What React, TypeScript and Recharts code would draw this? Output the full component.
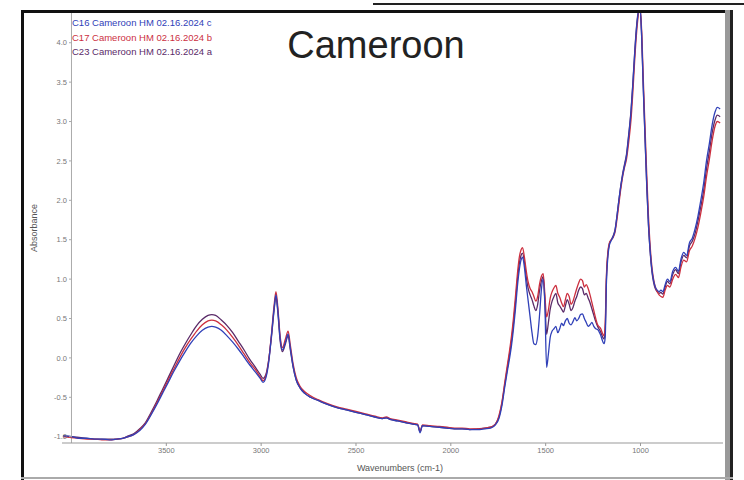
import React from 'react';
import { LineChart, Line, XAxis, YAxis, ReferenceLine } from 'recharts';

const title = 'Cameroon';
const legendLabels = [
  'C16 Cameroon HM 02.16.2024 c',
  'C17 Cameroon HM 02.16.2024 b',
  'C23 Cameroon HM 02.16.2024 a',
];
const seriesColors = ['#3040b8', '#cc2f3f', '#5a2a68'];
const xTicks = [3500, 3000, 2500, 2000, 1500, 1000];
const yTicks = [-1.0, -0.5, 0.0, 0.5, 1.0, 1.5, 2.0, 2.5, 3.0, 3.5, 4.0];
const xLabel = 'Wavenumbers (cm-1)';
const yLabel = 'Absorbance';

const wavenumbers = [
  4045, 4000, 3960, 3920, 3880, 3840, 3800, 3760, 3730, 3700, 3670, 3640, 3610, 3580, 3550, 3520,
  3490, 3460, 3430, 3400, 3370, 3340, 3310, 3280, 3260, 3240, 3210, 3180, 3150, 3120, 3090, 3060,
  3030, 3005, 2990, 2975, 2960, 2945, 2932, 2922, 2912, 2900, 2888, 2872, 2858, 2846, 2832, 2815,
  2795, 2770, 2740, 2700, 2650, 2600, 2550, 2500, 2450, 2400, 2360, 2340, 2320, 2280, 2240, 2200,
  2175, 2162, 2150, 2110, 2060, 2020, 1980, 1940, 1900, 1860, 1820, 1790, 1765, 1745, 1730, 1715,
  1700, 1690, 1680, 1670, 1660, 1650, 1640, 1630, 1622, 1612, 1602, 1592, 1582, 1572, 1562, 1552,
  1542, 1532, 1522, 1513, 1504, 1495, 1486, 1476, 1466, 1456, 1446, 1436, 1426, 1416, 1406, 1396,
  1386, 1376, 1366, 1356, 1346, 1336, 1326, 1316, 1306, 1296, 1286, 1276, 1266, 1256, 1246, 1236,
  1226, 1212, 1192, 1186, 1180, 1172, 1164, 1154, 1144, 1134, 1124, 1114, 1104, 1094, 1084, 1074,
  1062, 1050, 1040, 1030, 1018, 1003, 994, 985, 976, 967, 958, 949, 940, 931, 922, 912,
  902, 892, 882, 870, 858, 845, 830, 815, 800, 786, 772, 757, 742, 727, 712, 697,
  682, 667, 652, 637, 622, 607, 595, 580,
];

const c16 = [
  -0.99, -1.0, -1.02, -1.02, -1.03, -1.03, -1.04, -1.03, -1.02, -1.0, -0.97, -0.92, -0.84, -0.72, -0.59, -0.45,
  -0.31, -0.17, -0.04, 0.08, 0.19, 0.28, 0.35, 0.39, 0.4, 0.39, 0.35, 0.28, 0.2, 0.11, 0.01, -0.09,
  -0.18, -0.26, -0.31, -0.25, -0.05, 0.3, 0.62, 0.8, 0.6, 0.25, 0.1, 0.2, 0.3, 0.12, -0.1, -0.28,
  -0.38, -0.45, -0.5, -0.54, -0.59, -0.63, -0.66, -0.69, -0.72, -0.75, -0.77, -0.76, -0.78, -0.8, -0.82, -0.84,
  -0.85, -0.95, -0.86, -0.87, -0.88, -0.89, -0.9, -0.9, -0.91, -0.91, -0.9, -0.89, -0.85, -0.76, -0.6, -0.36,
  -0.14, 0.0, 0.16, 0.36, 0.6, 0.88, 1.1, 1.24, 1.28, 1.15, 0.92, 0.72, 0.52, 0.32, 0.18, 0.17,
  0.28, 0.55, 0.88, 1.0, 0.66, -0.12, 0.04, 0.26, 0.34, 0.37, 0.4, 0.32, 0.37, 0.44, 0.41, 0.47,
  0.5, 0.44, 0.42, 0.46, 0.51, 0.47, 0.5, 0.55, 0.56, 0.5, 0.45, 0.4, 0.42, 0.45, 0.4, 0.37,
  0.36, 0.3, 0.18, 0.26, 0.92, 1.28, 1.43, 1.49, 1.54, 1.62, 1.8, 2.0, 2.18, 2.32, 2.44, 2.56,
  2.82, 3.12, 3.48, 3.88, 4.26, 4.46, 4.1, 3.42, 2.8, 2.2, 1.7, 1.36, 1.12, 0.98, 0.9, 0.86,
  0.84, 0.86, 0.84, 0.93, 1.0, 0.97, 1.1, 1.15, 1.1, 1.26, 1.34, 1.3, 1.46, 1.52, 1.64, 1.8,
  2.0, 2.22, 2.5, 2.72, 2.96, 3.12, 3.18, 3.16,
];

const c17 = [
  -1.0, -1.01, -1.02, -1.03, -1.03, -1.04, -1.04, -1.03, -1.02, -1.0, -0.97, -0.91, -0.83, -0.71, -0.57, -0.43,
  -0.28, -0.14, 0.0, 0.13, 0.24, 0.34, 0.42, 0.47, 0.48, 0.47, 0.42, 0.35, 0.26, 0.16, 0.05, -0.06,
  -0.15, -0.24, -0.29, -0.23, -0.03, 0.32, 0.66, 0.84, 0.64, 0.28, 0.13, 0.24, 0.34, 0.16, -0.07, -0.25,
  -0.36, -0.43, -0.48, -0.53, -0.58, -0.62, -0.65, -0.68, -0.71, -0.74, -0.76, -0.75, -0.77, -0.79, -0.81, -0.83,
  -0.84, -0.93, -0.85, -0.86, -0.87, -0.88, -0.89, -0.89, -0.9, -0.9, -0.89, -0.88, -0.84, -0.72, -0.55, -0.3,
  -0.06, 0.1, 0.28, 0.5, 0.76, 1.04, 1.26, 1.37, 1.4, 1.28, 1.1, 0.96, 0.88, 0.84, 0.78, 0.72,
  0.78, 0.94, 1.04, 1.07, 0.8, 0.52, 0.6, 0.76, 0.84, 0.89, 0.92, 0.82, 0.77, 0.7, 0.65, 0.74,
  0.82, 0.78, 0.68, 0.72, 0.8, 0.88, 0.95, 1.0, 0.98, 0.9, 0.93, 0.88, 0.8, 0.7, 0.6, 0.5,
  0.42, 0.38, 0.28, 0.44, 1.02, 1.34, 1.46, 1.5, 1.53, 1.6, 1.76, 1.95, 2.14, 2.3, 2.42, 2.52,
  2.74, 3.02, 3.38, 3.8, 4.2, 4.44, 4.16, 3.52, 2.92, 2.32, 1.8, 1.42, 1.16, 1.0, 0.9, 0.84,
  0.8, 0.78, 0.77, 0.86, 0.92, 0.9, 1.0, 1.06, 1.02, 1.16, 1.24, 1.22, 1.36, 1.42, 1.52, 1.66,
  1.84, 2.04, 2.3, 2.52, 2.76, 2.94, 3.0, 2.98,
];

const c23 = [
  -0.99, -1.0, -1.01, -1.02, -1.03, -1.03, -1.03, -1.03, -1.02, -0.99, -0.96, -0.9, -0.82, -0.69, -0.55, -0.4,
  -0.25, -0.1, 0.05, 0.18, 0.3, 0.41, 0.49, 0.54, 0.55, 0.54, 0.48, 0.41, 0.32, 0.21, 0.1, -0.02,
  -0.12, -0.21, -0.26, -0.21, -0.02, 0.28, 0.6, 0.78, 0.58, 0.22, 0.08, 0.18, 0.28, 0.1, -0.11, -0.28,
  -0.38, -0.45, -0.5, -0.54, -0.59, -0.63, -0.66, -0.69, -0.72, -0.75, -0.77, -0.76, -0.78, -0.8, -0.82, -0.84,
  -0.85, -0.94, -0.86, -0.87, -0.88, -0.89, -0.9, -0.9, -0.91, -0.9, -0.89, -0.88, -0.84, -0.74, -0.57, -0.33,
  -0.1, 0.05, 0.22, 0.43, 0.68, 0.96, 1.18, 1.3, 1.33, 1.22, 1.02, 0.88, 0.8, 0.74, 0.66, 0.6,
  0.68, 0.86, 0.98, 1.03, 0.72, 0.3, 0.44, 0.62, 0.72, 0.78, 0.82, 0.7, 0.66, 0.62, 0.58, 0.66,
  0.74, 0.68, 0.6, 0.64, 0.72, 0.78, 0.86, 0.9, 0.88, 0.8, 0.82, 0.76, 0.7, 0.62, 0.54, 0.46,
  0.4, 0.34, 0.24, 0.36, 0.98, 1.32, 1.45, 1.5, 1.55, 1.63, 1.8, 2.0, 2.18, 2.34, 2.46, 2.58,
  2.84, 3.14, 3.5, 3.9, 4.28, 4.46, 4.08, 3.4, 2.78, 2.18, 1.68, 1.34, 1.1, 0.96, 0.88, 0.84,
  0.82, 0.83, 0.81, 0.9, 0.97, 0.94, 1.06, 1.12, 1.07, 1.22, 1.3, 1.27, 1.42, 1.48, 1.58, 1.74,
  1.92, 2.12, 2.4, 2.62, 2.86, 3.02, 3.08, 3.06,
];

const data = wavenumbers.map((w, i) => ({ w, c16: c16[i], c17: c17[i], c23: c23[i] }));

const FONT = '"Liberation Sans", Arial, sans-serif';

const renderYTick = (props: any) => {
  const { y, payload } = props;
  return (
    <g key={`yt-${payload.value}`}>
      <line x1={69} x2={72} y1={y} y2={y} stroke="#aaa" strokeWidth={1} />
      <text x={67} y={y} dy={2.6} textAnchor="end" fontSize={7.5} fill="#777" fontFamily={FONT}>
        {Number(payload.value).toFixed(1)}
      </text>
    </g>
  );
};

export default function App() {
  return (
    <div style={{ position: 'fixed', left: 0, top: 0, width: 744, height: 480, background: '#fff' }}>
      <LineChart
        width={744}
        height={480}
        data={data}
        margin={{ top: 12, right: 21, bottom: 17, left: 52 }}
      >
        <XAxis
          dataKey="w"
          type="number"
          domain={[565, 4050]}
          reversed
          allowDataOverflow
          ticks={xTicks}
          interval={0}
          height={20}
          axisLine={{ stroke: '#999' }}
          tickLine={{ stroke: '#999' }}
          tickSize={3}
          tick={{ fontSize: 7.5, fill: '#777', fontFamily: FONT }}
        />
        <YAxis
          type="number"
          domain={[-1.08, 4.39]}
          allowDataOverflow
          ticks={yTicks}
          interval={0}
          width={10}
          axisLine={false}
          tickLine={false}
          tick={renderYTick}
        />
        <ReferenceLine x={4000} stroke="#aaa" strokeWidth={1} />
        <Line dataKey="c23" type="monotone" stroke={seriesColors[2]} strokeWidth={1.3} dot={false} isAnimationActive={false} />
        <Line dataKey="c17" type="monotone" stroke={seriesColors[1]} strokeWidth={1.3} dot={false} isAnimationActive={false} />
        <Line dataKey="c16" type="monotone" stroke={seriesColors[0]} strokeWidth={1.3} dot={false} isAnimationActive={false} />
      </LineChart>
      <svg width={744} height={480} style={{ position: 'absolute', left: 0, top: 0, pointerEvents: 'none' }}>
        <rect x={21} y={10} width={3} height={470} fill="#111" />
        <rect x={21} y={10} width={712} height={3} fill="#111" />
        <rect x={373} y={3} width={371} height={2} fill="#222" />
        <rect x={725} y={10} width={5} height={470} fill="#999" />
        <rect x={730} y={10} width={3} height={470} fill="#222" />
        <rect x={21} y={477} width={712} height={2} fill="#aaa" />
        <text x={376} y={58} textAnchor="middle" fontSize={38} fill="#222" fontFamily={FONT}>
          {title}
        </text>
        {legendLabels.map((t, i) => (
          <text key={t} x={72} y={26 + i * 14.5} fontSize={9.5} fill={seriesColors[i]} fontFamily={FONT}>
            {t}
          </text>
        ))}
        <text x={400} y={471} textAnchor="middle" fontSize={9} fill="#555" fontFamily={FONT}>
          {xLabel}
        </text>
        <text x={37} y={228} textAnchor="middle" fontSize={9} fill="#555" fontFamily={FONT} transform="rotate(-90 37 228)">
          {yLabel}
        </text>
      </svg>
    </div>
  );
}
